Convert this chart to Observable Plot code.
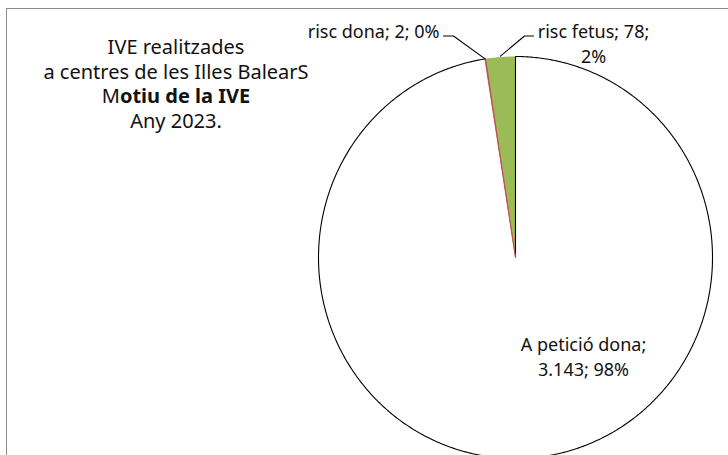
<!DOCTYPE html>
<html>
<head>
<meta charset="utf-8">
<script src="https://cdn.jsdelivr.net/npm/d3@7"></script>
<script src="https://cdn.jsdelivr.net/npm/@observablehq/plot@0.6"></script>
<style>
  html, body { margin: 0; padding: 0; background: #fff; }
  #wrap { position: relative; width: 728px; height: 455px; overflow: hidden; font-family: "Noto Sans", "Open Sans", sans-serif; }
  #border { position: absolute; left: 6px; top: 8px; width: 800px; height: 600px; border: 1.5px solid #8c8c8c; box-sizing: border-box; }
  #title { position: absolute; left: 26px; top: 35px; width: 300px; text-align: center; font-size: 20px; line-height: 24.5px; color: #111; }
  #chart { position: absolute; left: 0; top: 0; }
  #chart svg { background: transparent !important; }
</style>
</head>
<body>
<div id="wrap">
  <div id="border"></div>
  <div id="title"></div>
  <div id="chart"></div>
</div>
<script>
// ---- data ----
const categories = ["A petició dona", "risc dona", "risc fetus"];
const values = [3143, 2, 78];
const sliceColors = ["#FFFFFF", "#C0504D", "#9BBB59"];
const titleLines = ["IVE realitzades", "a centres de les Illes BalearS", "Motiu de la IVE", "Any 2023."];

// ---- title ----
const titleEl = document.getElementById("title");
titleLines.forEach((t, i) => {
  const div = document.createElement("div");
  if (i === 2) {
    const a = document.createElement("span"); a.textContent = t.slice(0, 1);
    const b = document.createElement("b"); b.textContent = t.slice(1);
    div.append(a, b);
  } else div.textContent = t;
  titleEl.appendChild(div);
});

// ---- geometry ----
const cx = 515, cy = 257, Rx = 197, Ry = 201;
const W = 728, H = 455;
const toX = px => (px - cx) / Rx;
const toY = py => (cy - py) / Ry;

const table = categories.map((c, i) => ({category: c, value: values[i], color: sliceColors[i]}));
const total = d3.sum(values);
const arcs = d3.pie().sort(null).value(d => d.value).startAngle(0).endAngle(2 * Math.PI)(table);

function arcPoints(a0, a1, key, closed) {
  const pts = [{key, x: 0, y: 0}];
  const n = Math.max(2, Math.ceil((a1 - a0) / (Math.PI / 360)));
  for (let k = 0; k <= n; k++) {
    const t = a0 + (a1 - a0) * k / n;
    pts.push({key, x: Math.sin(t), y: Math.cos(t)});
  }
  if (closed) pts.push({key, x: 0, y: 0});
  return pts;
}

const white = arcs[0], red = arcs[1], green = arcs[2];
const whitePoly = arcPoints(white.startAngle, white.endAngle, white.data.category, true);
const greenPoly = arcPoints(green.startAngle, green.endAngle, green.data.category, true);
const redPoly = arcPoints(red.startAngle, red.endAngle, red.data.category, true);
const whiteOutline = arcPoints(white.startAngle, white.endAngle, "outline", false);

// ---- labels ----
const locale = d3.formatLocale({decimal: ",", thousands: ".", grouping: [3], currency: ["", " €"]});
const fmt = locale.format(",");
const pct = v => Math.round(v / total * 100) + "%";
const labelText = d => [d.category, fmt(d.value), pct(d.value)];

// label layout (pixel anchor positions, text-anchor and line breaks)
const layout = {
  "risc dona":      {px: 439, py: 29,  anchor: "end",    brk: 3},
  "risc fetus":     {px: 593, py: 42,  anchor: "middle", brk: 2},
  "A petició dona": {px: 583, py: 355, anchor: "middle", brk: 1}
};
const labels = table.map(d => {
  const L = layout[d.category];
  const parts = labelText(d);
  const l1 = parts.slice(0, L.brk).join("; ") + (L.brk < 3 ? ";" : "");
  const l2 = parts.slice(L.brk).join("; ");
  return {x: toX(L.px), y: toY(L.py), text: l2 ? l1 + "\n" + l2 : l1, anchor: L.anchor};
});

// leader lines: horizontal stub near the label, then to the slice's outer edge
const edge = (a, k = 1) => ({x: Math.sin(a) * k, y: Math.cos(a) * k});
const leaders = [
  {key: "dona", x: toX(443), y: toY(35.5)},
  {key: "dona", x: toX(453), y: toY(35.5)},
  {key: "dona", ...edge(red.startAngle + 0.001, 1.0)},
  {key: "fetus", x: toX(533), y: toY(35.5)},
  {key: "fetus", x: toX(524), y: toY(35.5)},
  {key: "fetus", ...edge((green.startAngle + green.endAngle) / 2, 1.005)}
];

const textOpts = {x: "x", y: "y", text: "text", fontSize: 18, lineHeight: 1.42, fill: "#111"};

const plot = Plot.plot({
  width: W, height: H,
  margin: 0,
  style: {background: "transparent", fontFamily: "'Noto Sans', 'Open Sans', sans-serif"},
  x: {domain: [-1, 1], range: [cx - Rx, cx + Rx], axis: null},
  y: {domain: [-1, 1], range: [cy + Ry, cy - Ry], axis: null},
  marks: [
    Plot.line(whitePoly, {x: "x", y: "y", z: "key", fill: white.data.color, stroke: "none"}),
    Plot.line(greenPoly, {x: "x", y: "y", z: "key", fill: green.data.color, stroke: "none"}),
    Plot.line(whiteOutline, {x: "x", y: "y", z: "key", stroke: "#000", strokeWidth: 1.1, fill: "none"}),
    Plot.line(redPoly, {x: "x", y: "y", z: "key", fill: red.data.color, stroke: red.data.color, strokeWidth: 0.9}),
    Plot.line(leaders, {x: "x", y: "y", z: "key", stroke: "#000", strokeWidth: 1.1}),
    Plot.text(labels.filter(d => d.anchor === "end"), {...textOpts, textAnchor: "end"}),
    Plot.text(labels.filter(d => d.anchor === "middle"), {...textOpts, textAnchor: "middle"})
  ]
});
document.getElementById("chart").appendChild(plot);
</script>
</body>
</html>
